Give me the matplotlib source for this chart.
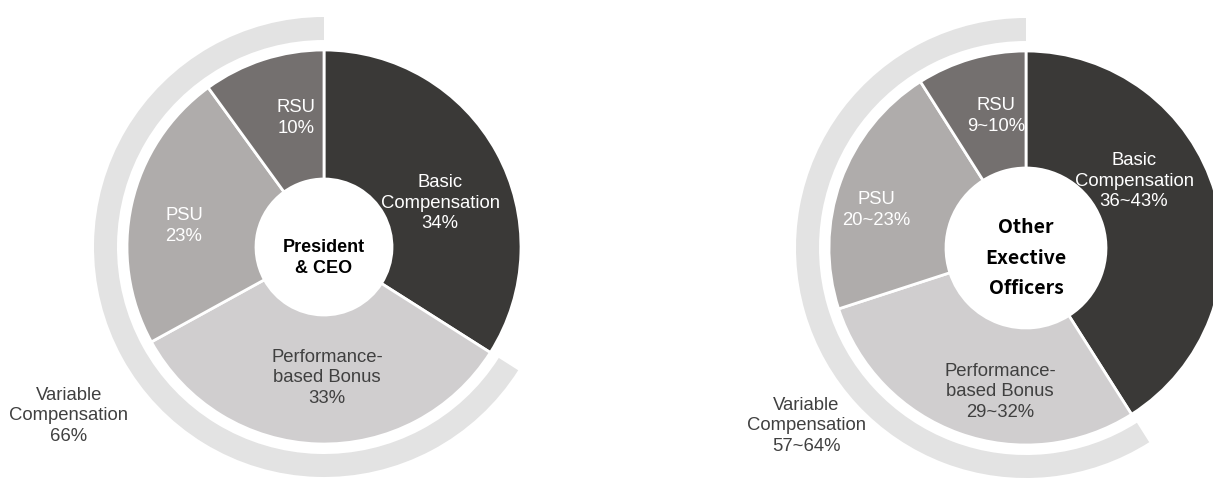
import matplotlib
matplotlib.use("Agg")
import matplotlib.pyplot as plt

# Compensation mix, clockwise from 12 o'clock
ceo_labels = ["Basic\nCompensation\n34%", "Performance-\nbased Bonus\n33%", "PSU\n23%", "RSU\n10%"]
ceo_values = [34, 33, 23, 10]
ceo_variable = 66

officer_labels = ["Basic\nCompensation\n36~43%", "Performance-\nbased Bonus\n29~32%", "PSU\n20~23%", "RSU\n9~10%"]
officer_values = [41, 29, 21, 9]
officer_variable = 59

slice_colors = ["#3a3937", "#d0cecf", "#afacab", "#74706f"]
label_colors = ["white", "#404040", "white", "white"]
ring_color = "#e3e3e3"
text_dark = "#404040"

W, H = 1213, 490
fig = plt.figure(figsize=(W / 100, H / 100), dpi=100)
ax = fig.add_axes([0, 0, 1, 1])


def py(y):
    # pixel row (from top) -> data y
    return H - y


def draw_donut(cx, cy, values, variable, hole):
    r = 197
    ax.pie(values, colors=slice_colors, startangle=90, counterclock=False,
           radius=r, center=(cx, py(cy)),
           wedgeprops=dict(width=r - hole, edgecolor="white", linewidth=2))
    # outer arc marking the variable part, counter-clockwise from the top
    ax.pie([variable, 100 - variable], colors=[ring_color, "none"],
           startangle=90, counterclock=True, radius=230, center=(cx, py(cy)),
           wedgeprops=dict(width=23, linewidth=0))


draw_donut(324, 247, ceo_values, ceo_variable, 68)
draw_donut(1026, 248, officer_values, officer_variable, 80)

lab = dict(ha="center", va="center", multialignment="center",
           fontsize=13.3, family="Liberation Sans", linespacing=1.3)

# slice labels
ceo_pos = [(440, 203), (327, 378), (184, 226), (296, 118)]
for t, c, (x, y) in zip(ceo_labels, label_colors, ceo_pos):
    ax.text(x, py(y), t, color=c, **lab)
officer_pos = [(1134, 181), (1000, 392), (876, 210), (996, 116)]
for t, c, (x, y) in zip(officer_labels, label_colors, officer_pos):
    ax.text(x, py(y), t, color=c, **lab)

ax.text(69, py(416), f"Variable\nCompensation\n{ceo_variable}%", color=text_dark, **lab)
ax.text(806, py(426), "Variable\nCompensation\n57~64%", color=text_dark, **lab)

# centre titles
ax.text(324, py(258), "President\n& CEO", ha="center", va="center",
        fontsize=13, fontweight="bold", family="Liberation Sans",
        linespacing=1.25, color="black")
ax.text(1026, py(258), "Other\nExective\nOfficers", ha="center", va="center",
        fontsize=14, fontweight="bold", family="Noto Sans CJK KR",
        linespacing=1.75, color="black")

ax.set_xlim(0, W)
ax.set_ylim(0, H)
ax.set_aspect("equal")
ax.axis("off")

fig.savefig("out.png", dpi=100, facecolor="white")
